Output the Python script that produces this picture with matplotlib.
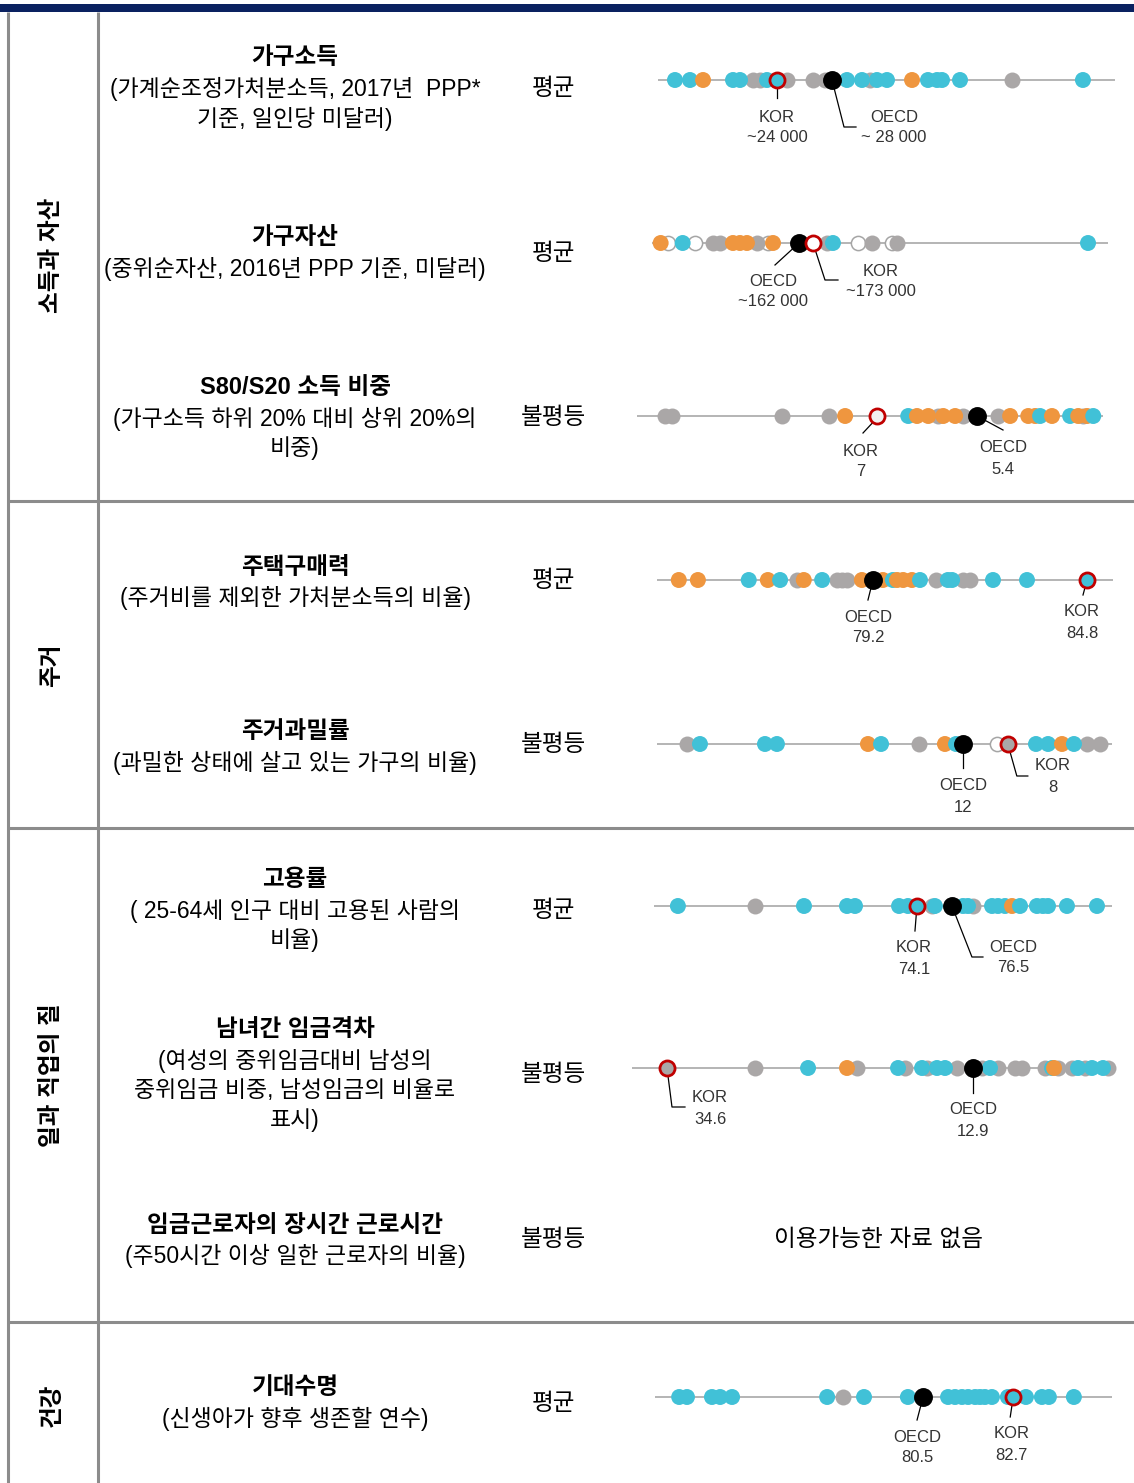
import matplotlib
matplotlib.use('Agg')
import matplotlib.pyplot as plt
from matplotlib.patches import Rectangle

W, H = 1134, 1483
DPI = 100

KR = ['Liberation Sans', 'Noto Sans CJK KR', 'DejaVu Sans']
NARROW = ['Liberation Sans', 'DejaVu Sans']

TEAL = '#41C1D7'
ORANGE = '#EF963F'
GRAY = '#AAA7A7'
KOR_RED = '#C00000'
COLORS = {'t': TEAL, 'o': ORANGE, 'g': GRAY}

# ---------------- data ----------------
categories = ['소득과 자산', '주거', '일과 직업의 질', '건강']

income_vals = [16580, 17670, 18620, 20800, 21310, 22250, 22760, 23270, 24730, 26620, 27490,
               29090, 30180, 30760, 31270, 32000, 33820, 34980, 35640, 36000, 37310, 41090, 46250]
income_grp = ['t', 't', 'o', 't', 't', 'g', 'g', 't', 'g', 'g', 'g',
              't', 't', 'g', 't', 't', 'o', 't', 't', 't', 't', 'g', 't']

wealth_vals = [53300, 59100, 70600, 80300, 94400, 99900, 110100, 115600, 121100, 129000,
               137600, 141600, 184000, 188700, 208400, 219400, 235100, 239000, 389100]
wealth_grp = ['o', 'h', 't', 'h', 'g', 'g', 'o', 'o', 'o', 'g',
              'h', 'o', 'g', 't', 'h', 'g', 'h', 'g', 't']

s80_vals = [10.39, 10.28, 8.52, 7.77, 7.51, 6.50, 6.36, 6.18, 6.02, 5.94, 5.75, 5.62,
            5.06, 4.87, 4.58, 4.47, 4.39, 4.20, 3.91, 3.78, 3.70, 3.64, 3.54]
s80_grp = ['g', 'g', 'g', 'g', 'o', 't', 'o', 'o', 'g', 'o', 'o', 'g',
           'g', 'o', 'o', 'o', 't', 'o', 't', 'o', 'g', 'o', 't']

afford_vals = [74.12, 74.62, 75.95, 76.45, 76.77, 77.21, 77.39, 77.87, 78.26, 78.39, 78.52,
               78.91, 79.46, 79.72, 79.83, 79.99, 80.22, 80.43, 80.85, 81.16, 81.27, 81.56,
               81.74, 82.34, 83.23]
afford_grp = ['o', 'o', 't', 'o', 't', 'g', 'o', 't', 'g', 'g', 'g',
              'o', 'o', 't', 'o', 'o', 'o', 't', 'g', 't', 't', 'g',
              'g', 't', 't']

crowd_vals = [34.16, 33.12, 27.90, 26.94, 19.63, 18.58, 15.53, 13.45, 12.56, 9.27,
              6.14, 5.17, 4.05, 3.09, 2.04, 1.00]
crowd_grp = ['g', 't', 't', 't', 'o', 't', 'g', 'o', 't', 'h',
             't', 't', 'o', 't', 'g', 'g']

emp_vals = [57.70, 62.99, 66.35, 69.30, 69.85, 72.87, 73.48, 75.33, 75.13, 77.26, 77.60,
            77.94, 79.25, 79.66, 80.14, 80.62, 81.17, 82.33, 82.74, 83.09, 84.39, 86.45]
emp_grp = ['t', 'g', 't', 't', 't', 't', 't', 't', 'g', 't', 't',
           'g', 't', 't', 't', 'o', 't', 't', 't', 't', 't', 't']

gap_vals = [28.36, 24.60, 21.13, 21.84, 17.73, 18.22, 16.17, 16.52, 15.46, 14.89, 14.04,
            12.27, 11.70, 11.13, 9.93, 9.43, 7.80, 7.30, 7.16, 6.88, 5.89, 5.46, 4.96,
            4.47, 3.69, 3.33]
gap_grp = ['g', 't', 'g', 'o', 'g', 't', 'g', 't', 't', 't', 'g',
           'g', 't', 'g', 'g', 'g', 'g', 't', 'o', 'g', 'g', 't', 'g',
           't', 't', 'g']

life_vals = [74.55, 74.74, 75.35, 75.55, 75.84, 78.16, 78.55, 79.06, 80.13, 81.11, 81.28,
             81.45, 81.60, 81.77, 81.89, 82.01, 82.18, 82.57, 83.01, 83.40, 83.57, 84.18]
life_grp = ['t', 't', 't', 't', 't', 't', 'g', 't', 't', 't', 't',
            't', 't', 't', 't', 't', 't', 't', 't', 't', 't', 't']

kor_vals = [24000, 173000, 7.0, 84.8, 8.4, 74.1, 34.6, 82.7]
kor_labels = ['~24 000', '~173 000', '7', '84.8', '8', '74.1', '34.6', '82.7']
kor_fill = [TEAL, 'white', '#F2F2F2', TEAL, GRAY, TEAL, GRAY, TEAL]
oecd_vals = [28000, 162000, 5.4, 79.2, 12.0, 76.5, 12.9, 80.5]
oecd_labels = ['~ 28 000', '~162 000', '5.4', '79.2', '12', '76.5', '12.9', '80.5']

titles = ['가구소득', '가구자산', 'S80/S20 소득 비중', '주택구매력', '주거과밀률',
          '고용률', '남녀간 임금격차', '임금근로자의 장시간 근로시간', '기대수명']
subtitles = [['(가계순조정가처분소득, 2017년  PPP*', '기준, 일인당 미달러)'],
             ['(중위순자산, 2016년 PPP 기준, 미달러)'],
             ['(가구소득 하위 20% 대비 상위 20%의', '비중)'],
             ['(주거비를 제외한 가처분소득의 비율)'],
             ['(과밀한 상태에 살고 있는 가구의 비율)'],
             ['( 25-64세 인구 대비 고용된 사람의', '비율)'],
             ['(여성의 중위임금대비 남성의', '중위임금 비중, 남성임금의 비율로', '표시)'],
             ['(주50시간 이상 일한 근로자의 비율)'],
             ['(신생아가 향후 생존할 연수)']]
types = ['평균', '평균', '불평등', '평균', '불평등', '평균', '불평등', '불평등', '평균']
no_data_text = '이용가능한 자료 없음'

# ---------------- layout (pixels) ----------------
title_y = [58, 238, 388, 567, 732, 880, 1030, 1225, 1388]
type_y = [89, 254, 418, 581, 745, 911, 1075, 1240, 1404]
cat_y = [255, 665, 1075, 1405]

strip_vals = [income_vals, wealth_vals, s80_vals, afford_vals, crowd_vals, emp_vals, gap_vals, life_vals]
strip_grp = [income_grp, wealth_grp, s80_grp, afford_grp, crowd_grp, emp_grp, gap_grp, life_grp]
strip_y = [80, 243, 416, 580, 744, 906, 1068, 1397]
strip_px = [(658, 1115), (652, 1108), (637, 1103), (657, 1113), (657, 1112), (654, 1112), (632, 1115), (655, 1112)]
strip_lim = [(15345, 48582), (46500, 404800), (10.84, 3.384), (73.55, 85.48),
             (36.57, 0.035), (56.06, 87.48), (37.08, 2.84), (73.96, 85.11)]

kor_line = [[(0, 0), (0, 18)], [(0, 0), (12, 37), (25, 37)], [(0, 2), (-14, 17)], [(0, 0), (-4, 15)],
            [(0, 0), (9, 32), (20, 32)], [(0, 0), (-2, 25)], [(0, 0), (5, 39), (18, 39)], [(0, 0), (-3, 20)]]
kor_text = [(0, 37), (68, 28), (-16, 35), (-5, 32), (45, 22), (-3, 42), (43, 30), (-2, 37)]
oecd_line = [[(0, 0), (12, 47), (24, 47)], [(0, 0), (-24, 22)], [(0, 0), (26, 14)], [(0, 0), (-5, 20)],
             [(0, 0), (0, 24)], [(0, 0), (20, 51), (31, 51)], [(0, 0), (0, 25)], [(0, 0), (-6, 23)]]
oecd_text = [(62, 37), (-26, 38), (26, 32), (-5, 37), (0, 42), (61, 41), (0, 42), (-6, 40)]

fig = plt.figure(figsize=(W / DPI, H / DPI), dpi=DPI)
main = fig.add_axes([0, 0, 1, 1])
main.set_xlim(0, W)
main.set_ylim(H, 0)
main.axis('off')

# frame
main.add_patch(Rectangle((0, 4), W, 8, color='#0A2160', lw=0))
LC = '#8C8C8C'
LW = 2.2
main.plot([8, 8], [12, H], color=LC, lw=LW, solid_capstyle='butt')
main.plot([98, 98], [12, H], color=LC, lw=LW, solid_capstyle='butt')
for y in [501, 828, 1322]:
    main.plot([8, W], [y, y], color=LC, lw=LW, solid_capstyle='butt')

# category labels
for c, y in zip(categories, cat_y):
    main.text(52, y, c, rotation=90, ha='center', va='center', fontsize=17,
              fontweight='bold', family=KR)

# indicator texts
FS = 17
FS_SUB = 16.5
for i in range(9):
    main.text(295, title_y[i], titles[i], ha='center', va='center', fontsize=FS,
              fontweight='bold', family=KR)
    for j, s in enumerate(subtitles[i]):
        main.text(295, title_y[i] + 31 + 29.5 * j, s, ha='center', va='center',
                  fontsize=FS_SUB, family=KR)
    main.text(553, type_y[i], types[i], ha='center', va='center', fontsize=FS, family=KR)

main.text(878, 1240, no_data_text, ha='center', va='center', fontsize=FS, family=KR)

# strips
for r in range(8):
    x0, x1 = strip_px[r]
    yc = strip_y[r]
    hh = 15
    ax = fig.add_axes([x0 / W, 1 - (yc + hh) / H, (x1 - x0) / W, 2 * hh / H])
    ax.set_xlim(*strip_lim[r])
    ax.set_ylim(-1, 1)
    ax.axis('off')
    ax.axhline(0, color='#B4B4B4', lw=1.4, zorder=1)

    vals, grp = strip_vals[r], strip_grp[r]
    hv = [v for v, g in zip(vals, grp) if g == 'h']
    if hv:
        ax.scatter(hv, [0] * len(hv), s=105, facecolor='white', edgecolor='#A5A5A5',
                   linewidth=1.1, zorder=2, clip_on=False)
    gv = [v for v, g in zip(vals, grp) if g == 'g']
    ax.scatter(gv, [0] * len(gv), s=132, color=GRAY, linewidth=0, zorder=3, clip_on=False)
    ov = [(v, g) for v, g in zip(vals, grp) if g in ('t', 'o')]
    ax.scatter([v for v, g in ov], [0] * len(ov), s=132, c=[COLORS[g] for v, g in ov],
               linewidth=0, zorder=4, clip_on=False)
    ax.scatter([oecd_vals[r]], [0], s=185, color='black', linewidth=0, zorder=5, clip_on=False)
    ax.scatter([kor_vals[r]], [0], s=118, facecolor=kor_fill[r], edgecolor=KOR_RED,
               linewidth=2.0, zorder=6, clip_on=False)

    for val, line, toff, name, lab in [(kor_vals[r], kor_line[r], kor_text[r], 'KOR', kor_labels[r]),
                                       (oecd_vals[r], oecd_line[r], oecd_text[r], 'OECD', oecd_labels[r])]:
        dx, dy = ax.transData.transform((val, 0))
        px, py = dx, H - dy
        main.plot([px + a for a, b in line], [py + b for a, b in line], color='black', lw=0.9, zorder=1)
        main.text(px + toff[0], py + toff[1], name, ha='center', va='center', fontsize=12,
                  family=NARROW, color='#333333')
        main.text(px + toff[0], py + toff[1] + 21, lab, ha='center', va='center', fontsize=12,
                  family=NARROW, color='#333333')

fig.savefig('out.png', dpi=DPI)
